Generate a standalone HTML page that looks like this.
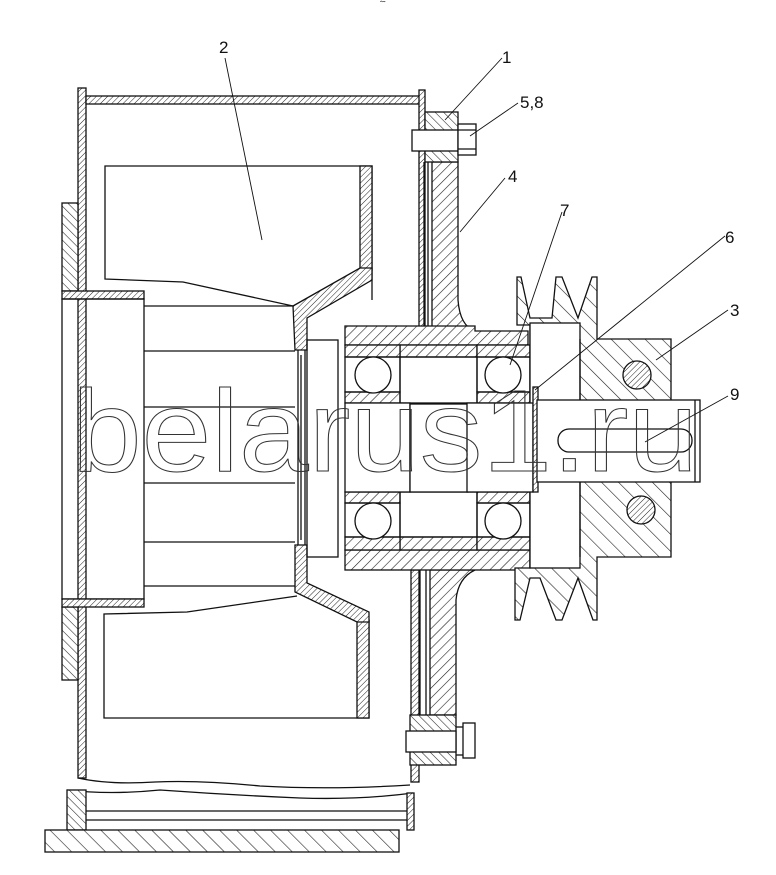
<!DOCTYPE html>
<html><head><meta charset="utf-8"><style>
html,body{margin:0;padding:0;background:#fff;}
svg{display:block;}
text{font-family:"Liberation Sans",sans-serif;}
</style></head><body>
<svg width="776" height="875" viewBox="0 0 776 875" xmlns="http://www.w3.org/2000/svg">
<defs>
<pattern id="h" width="7" height="7" patternUnits="userSpaceOnUse" patternTransform="rotate(45)"><rect width="7" height="7" fill="#fff"/><line x1="0" y1="0" x2="0" y2="7" stroke="#222" stroke-width="1.2"/></pattern>
<pattern id="hb" width="12" height="12" patternUnits="userSpaceOnUse" patternTransform="rotate(-45)"><rect width="12" height="12" fill="#fff"/><line x1="0" y1="0" x2="0" y2="12" stroke="#222" stroke-width="1.2"/></pattern>
<pattern id="hs" width="4" height="4" patternUnits="userSpaceOnUse" patternTransform="rotate(45)"><rect width="4" height="4" fill="#fff"/><line x1="0" y1="0" x2="0" y2="4" stroke="#222" stroke-width="1"/></pattern>
<pattern id="hr" width="6" height="6" patternUnits="userSpaceOnUse" patternTransform="rotate(-45)"><rect width="6" height="6" fill="#fff"/><line x1="0" y1="0" x2="0" y2="6" stroke="#222" stroke-width="1.1"/></pattern>
</defs>
<g stroke="#111" stroke-width="1.3" fill="none">
<rect x="78" y="88" width="8" height="690" fill="url(#hs)"/>
<rect x="86" y="96" width="334" height="8" fill="url(#hs)"/>
<rect x="62" y="203" width="16" height="88" fill="url(#hr)"/>
<rect x="62" y="607" width="16" height="73" fill="url(#hr)"/>
<rect x="419" y="90" width="6" height="240" fill="url(#hs)"/>
<rect x="411" y="570" width="8" height="212" fill="url(#hs)"/>
<line x1="424" y1="162" x2="424" y2="330"/><line x1="428" y1="162" x2="428" y2="330"/>
<line x1="420" y1="570" x2="420" y2="715"/><line x1="426" y1="570" x2="426" y2="715"/>
<rect x="62" y="291" width="82" height="8" fill="url(#hs)"/>
<rect x="62" y="299" width="82" height="300"/>
<rect x="62" y="599" width="82" height="8" fill="url(#hs)"/>
<line x1="144" y1="306" x2="295" y2="306"/><line x1="144" y1="351" x2="295" y2="351"/>
<line x1="144" y1="407" x2="295" y2="407"/><line x1="144" y1="483" x2="295" y2="483"/>
<line x1="144" y1="542" x2="295" y2="542"/><line x1="144" y1="586" x2="295" y2="586"/>
<polyline points="293,306 183,282 105,279 105,166 372,166 372,300"/>
<rect x="360" y="166" width="12" height="104" fill="url(#hs)"/>
<polygon points="293,306 360,268 372,268 372,280 307,318 307,350 295,350" fill="url(#hs)"/>
<polyline points="297,596 187,612 104,614 104,718 369,718 369,620"/>
<rect x="357" y="620" width="12" height="98" fill="url(#hs)"/>
<polygon points="295,545 307,545 307,583 369,612 369,622 357,622 295,592" fill="url(#hs)"/>
<line x1="298" y1="350" x2="298" y2="545"/><line x1="305" y1="350" x2="305" y2="545"/>
<line x1="301" y1="355" x2="301" y2="540"/>
<rect x="307" y="340" width="31" height="217"/>
<path d="M432,162 L458,162 L458,300 Q460,326 475,331 L432,331 Z" fill="url(#h)"/>
<path d="M430,570 L475,570 Q458,578 456,600 L456,715 L430,715 Z" fill="url(#h)"/>
<path d="M345,326 L475,326 L475,331 L528,331 L528,345 L345,345 Z" fill="url(#h)"/>
<rect x="400" y="345" width="77" height="12" fill="url(#h)"/>
<rect x="345" y="550" width="185" height="20" fill="url(#h)"/>
<rect x="400" y="537" width="77" height="13" fill="url(#h)"/>
<g>
<rect x="345" y="345" width="55" height="12" fill="url(#h)"/><rect x="345" y="392" width="55" height="11" fill="url(#h)"/>
<rect x="345" y="357" width="55" height="35"/><circle cx="373" cy="375" r="18" fill="#fff"/>
<rect x="477" y="345" width="53" height="12" fill="url(#h)"/><rect x="477" y="392" width="53" height="11" fill="url(#h)"/>
<rect x="477" y="357" width="53" height="35"/><circle cx="503" cy="375" r="18" fill="#fff"/>
<rect x="345" y="492" width="55" height="11" fill="url(#h)"/><rect x="345" y="537" width="55" height="13" fill="url(#h)"/>
<rect x="345" y="503" width="55" height="34"/><circle cx="373" cy="521" r="18" fill="#fff"/>
<rect x="477" y="492" width="53" height="11" fill="url(#h)"/><rect x="477" y="537" width="53" height="13" fill="url(#h)"/>
<rect x="477" y="503" width="53" height="34"/><circle cx="503" cy="521" r="18" fill="#fff"/>
</g>
<rect x="400" y="357" width="77" height="46"/>
<rect x="400" y="492" width="77" height="45"/>
<!-- pulley -->
<polygon points="517,325 517,277 521,277 530,318 552,318 556,277 562,277 578,318 592,277 597,277 597,339 671,339 671,557 597,557 597,620 593,620 578,578 562,620 556,620 540,578 530,578 520,620 515,620 515,568 530,568 530,325" fill="url(#hb)"/>
<rect x="530" y="323" width="50" height="245" fill="#fff"/>
<line x1="580" y1="339" x2="580" y2="557"/>
<circle cx="637" cy="375" r="14" fill="url(#hs)"/>
<circle cx="641" cy="510" r="14" fill="url(#hs)"/>
<!-- shaft on top -->
<rect x="345" y="403" width="65" height="89" fill="#fff"/>
<rect x="410" y="404" width="58" height="88" fill="#fff"/>
<rect x="467" y="403" width="66" height="89" fill="#fff"/>
<rect x="533" y="387" width="5" height="105" fill="url(#hs)"/>
<rect x="537" y="400" width="163" height="82" fill="#fff"/>
<line x1="695" y1="400" x2="695" y2="482"/>
<rect x="558" y="429" width="134" height="23" rx="11"/>
<rect x="425" y="112" width="33" height="50" fill="url(#hr)"/>
<rect x="412" y="130" width="46" height="21" fill="#fff"/>
<rect x="458" y="124" width="18" height="31" fill="#fff"/>
<line x1="458" y1="130" x2="476" y2="130"/><line x1="458" y1="149" x2="476" y2="149"/>
<rect x="410" y="715" width="46" height="50" fill="url(#hr)"/>
<rect x="406" y="731" width="50" height="21" fill="#fff"/>
<rect x="463" y="723" width="12" height="35" fill="#fff"/>
<line x1="456" y1="727" x2="463" y2="727"/><line x1="456" y1="755" x2="463" y2="755"/>
<path d="M78,778 Q110,785 155,782 Q200,780 260,786 Q330,790 410,785"/>
<path d="M67,790 Q110,795 160,790 Q230,795 300,798 Q360,800 413,793"/>
<rect x="67" y="790" width="19" height="40" fill="url(#hr)"/>
<rect x="407" y="793" width="7" height="37" fill="url(#hs)"/>
<line x1="86" y1="811" x2="407" y2="811"/><line x1="86" y1="820" x2="407" y2="820"/>
<rect x="45" y="830" width="354" height="22" fill="url(#hb)"/>
<g stroke-width="0.9">
<line x1="225" y1="58" x2="262" y2="240"/>
<line x1="502" y1="58" x2="445" y2="120"/>
<line x1="518" y1="103" x2="470" y2="136"/>
<line x1="505" y1="178" x2="460" y2="232"/>
<line x1="562" y1="212" x2="510" y2="365"/>
<line x1="725" y1="236" x2="535" y2="390"/>
<line x1="728" y1="310" x2="656" y2="360"/>
<line x1="728" y1="396" x2="645" y2="442"/>
</g>
</g>
<text x="72" y="471" font-size="116" textLength="626" lengthAdjust="spacingAndGlyphs" fill="none" stroke="#333" stroke-width="1">belarus1.ru</text>
<g font-size="17" fill="#111">
<text x="219" y="53">2</text>
<text x="502" y="63">1</text>
<text x="520" y="108">5,8</text>
<text x="508" y="182">4</text>
<text x="560" y="216">7</text>
<text x="725" y="243">6</text>
<text x="730" y="316">3</text>
<text x="730" y="400">9</text>
</g>
<text x="380" y="7" font-size="8" fill="#111">ˆ˜</text>
</svg>
</body></html>
